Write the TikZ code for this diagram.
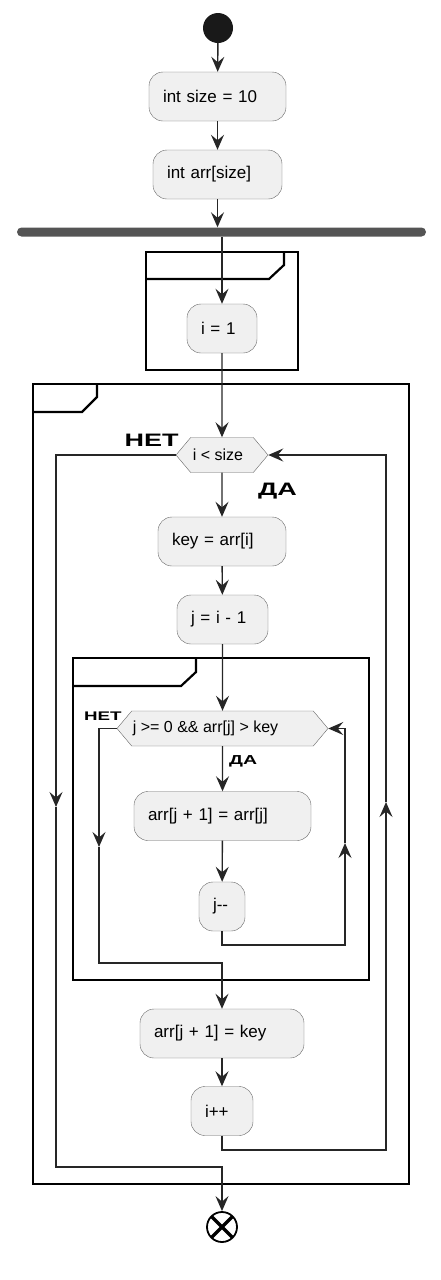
\documentclass[tikz,border=0pt]{standalone}
\usepackage{fontspec}
\setmainfont{Liberation Sans}
\newfontfamily\yesnofont[FakeStretch=1.5]{Liberation Sans}
\usetikzlibrary{positioning,arrows.meta,shapes.symbols}

\tikzstyle{action}=[rectangle,
                        rounded corners=14pt,
                        draw=black!60,
                        fill=black!6,
                        minimum height=49pt,
                        inner xsep=14pt,
                        align=left,
                        font=\fontsize{17}{20}\selectfont]
\tikzstyle{cond}=[signal,
                        signal to=west and east,
                        signal pointer angle=100,
                        draw=black!60,
                        fill=black!6,
                        minimum height=35pt,
                        inner xsep=0pt,
                        inner ysep=2pt,
                        font=\fontsize{16}{19}\selectfont]
\tikzstyle{yesno}=[inner sep=0pt]
\tikzstyle{frame}=[draw=black, line width=2.2pt]
\tikzstyle{conn}=[draw=black!85, line width=1.4pt]

\begin{document}
\begin{tikzpicture}[>={Stealth[length=15pt,width=13pt,inset=5.5pt]},x=1pt,y=-1pt]
  \useasboundingbox (0,0) rectangle (441,1280);

  % start, declarations and the fork bar
  \node (start) [circle, fill=black!90, minimum size=30pt, inner sep=0pt] at (218,28) {};
  \node (size) [action, text width=109pt] at (217.5,96.5) {int size = 10};
  \node (arr) [action, text width=101pt] at (217.5,174.5) {int arr[size]};
  \node (fork) [rectangle, rounded corners=4.5pt, fill=black!67, minimum width=409pt,
                minimum height=9pt, inner sep=0pt] at (221.5,232) {};

  % outer loop
  \node (i1) [action, text width=42pt] at (222,328.5) {i = 1};
  \node (cond1) [cond, minimum width=92pt] at (222,455) {i < size\hspace*{8pt}};
  \node (key) [action, text width=100pt] at (222,541.5) {key = arr[i]};
  \node (jinit) [action, text width=63pt] at (222.5,619.5) {j = i - 1};

  % inner loop
  \node (cond2) [cond, minimum width=211pt] at (222.5,728.5) {j >= 0 \&\& arr[j] > key\hspace*{34pt}};
  \node (shift) [action, text width=149pt] at (222.5,816) {arr[j + 1] = arr[j]};
  \node (jdec) [action, text width=18pt] at (222,906.5) {j-{}-};

  \node (place) [action, text width=136pt] at (222,1033.5) {arr[j + 1] = key};
  \node (inc) [action, text width=34pt] at (222,1111) {i++};
  \node (stop) [circle, draw=black, line width=1.8pt, fill=white, minimum size=30pt, inner sep=0pt,
                path picture={\draw[line width=3.4pt]
                  (path picture bounding box.north west) -- (path picture bounding box.south east)
                  (path picture bounding box.north east) -- (path picture bounding box.south west);}]
                at (222,1227) {};

  % yes / no labels
  \node (no1) [yesno, above left=8pt and -3pt of cond1.west]
        {\yesnofont\bfseries\fontsize{18}{18}\selectfont НЕТ};
  \node (yes1) [yesno, below right=10pt and 36pt of cond1.south]
        {\yesnofont\bfseries\fontsize{18}{18}\selectfont ДА};
  \node (no2) [yesno, above left=8pt and -5pt of cond2.west]
        {\yesnofont\bfseries\fontsize{12.5}{13}\selectfont НЕТ};
  \node (yes2) [yesno, below right=9pt and 6.5pt of cond2.south]
        {\yesnofont\bfseries\fontsize{13}{13}\selectfont ДА};

  % partitions
  \draw[frame] (146,252) rectangle (298,370);
  \draw[frame] (146,279) -- (269,279) -- (284,265) -- (284,252);
  \draw[frame] (33,384) rectangle (409,1184);
  \draw[frame] (33,412) -- (82,412) -- (97,397) -- (97,384);
  \draw[frame] (73,658) rectangle (369,980);
  \draw[frame] (73,686) -- (181,686) -- (196,672) -- (196,658);

  % bend points of the loops
  \coordinate (jback) at (345,945);
  \coordinate (jup) at (345,843);
  \coordinate (jout) at (99,847);
  \coordinate (jjoin) at (222,963);
  \coordinate (iback) at (386,1150);
  \coordinate (iup) at (386,802);
  \coordinate (iout) at (56,807);
  \coordinate (ijoin) at (222,1167);

  % the diagram elements are now connected through arrows
  \draw[conn,->] (start) -- (size);
  \draw[conn,->] (size) -- (arr);
  \draw[conn,->] (arr) -- (arr |- fork.north);
  \draw[conn,->] (fork.south -| i1) -- (i1);
  \draw[conn,->] (i1) -- (cond1);
  \draw[conn,->] (cond1) -- (key);
  \draw[conn,->] (key) -- (jinit);
  \draw[conn,->] (jinit) -- (cond2);
  \draw[conn,->] (cond2) -- (shift);
  \draw[conn,->] (shift) -- (jdec);
  \draw[conn,->] (jdec.south) |- (jback) -- (jup);
  \draw[conn,->] (jup) |- (cond2.east);
  \draw[conn,->] (cond2.west) -| (jout);
  \draw[conn,->] (jout) |- (jjoin) -- (place);
  \draw[conn,->] (place) -- (inc);
  \draw[conn,->] (inc.south) |- (iback) -- (iup);
  \draw[conn,->] (iup) |- (cond1.east);
  \draw[conn,->] (cond1.west) -| (iout);
  \draw[conn,->] (iout) |- (ijoin) -- (stop);
\end{tikzpicture}
\end{document}
